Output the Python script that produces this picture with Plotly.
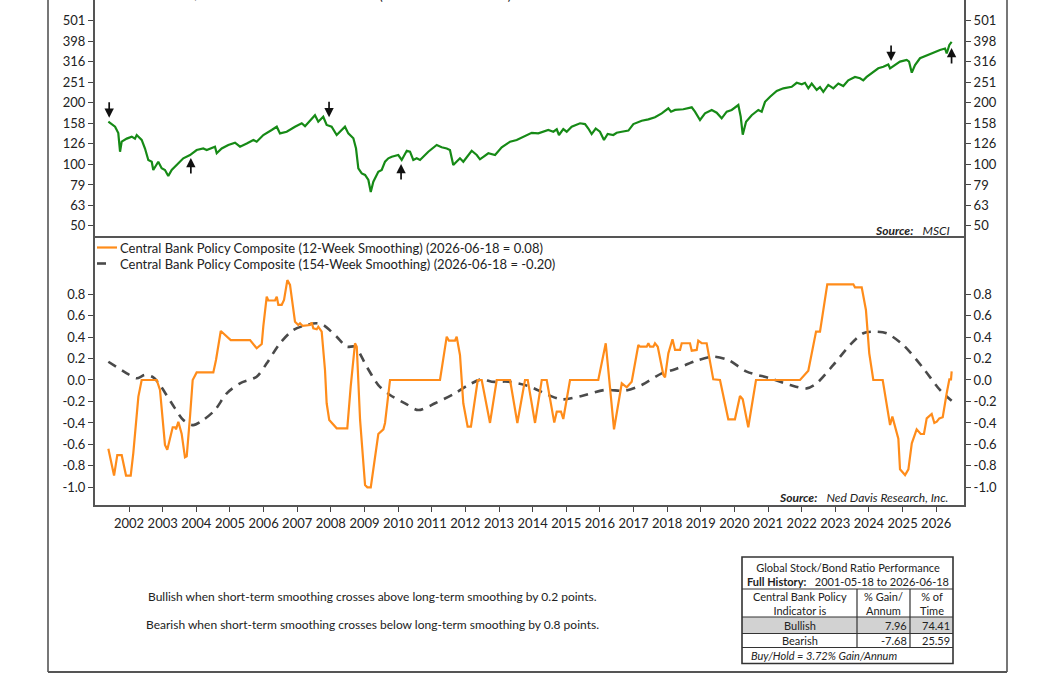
import numpy as np
import pandas as pd
import plotly.graph_objects as go

# ------------------------------------------------------------------ data
# Global stock / global bond total return ratio (decimal years)
ratio_year = [
    2001.384, 2001.584, 2001.682, 2001.732, 2001.783, 2001.932, 2002.080, 2002.178, 2002.229, 2002.378,
    2002.476, 2002.574, 2002.675, 2002.723, 2002.871, 2002.972, 2003.070, 2003.169, 2003.270, 2003.418,
    2003.615, 2003.814, 2004.013, 2004.209, 2004.310, 2004.557, 2004.608, 2004.756, 2004.953, 2005.152,
    2005.301, 2005.500, 2005.696, 2005.797, 2005.993, 2006.243, 2006.392, 2006.490, 2006.689, 2006.936,
    2007.135, 2007.233, 2007.531, 2007.629, 2007.778, 2007.879, 2008.027, 2008.176, 2008.274, 2008.423,
    2008.521, 2008.670, 2008.750, 2008.818, 2008.919, 2009.018, 2009.116, 2009.187, 2009.264, 2009.413,
    2009.514, 2009.612, 2009.710, 2009.811, 2010.008, 2010.109, 2010.258, 2010.356, 2010.454, 2010.555,
    2010.653, 2010.900, 2011.150, 2011.298, 2011.447, 2011.545, 2011.643, 2011.744, 2011.842, 2011.940,
    2012.190, 2012.339, 2012.437, 2012.684, 2012.883, 2013.082, 2013.329, 2013.528, 2013.677, 2013.974,
    2014.171, 2014.468, 2014.617, 2014.718, 2014.786, 2014.914, 2015.015, 2015.164, 2015.411, 2015.559,
    2015.658, 2015.758, 2015.877, 2016.005, 2016.124, 2016.234, 2016.401, 2016.502, 2016.651, 2016.847,
    2016.996, 2017.245, 2017.442, 2017.641, 2017.840, 2018.036, 2018.117, 2018.236, 2018.482, 2018.732,
    2018.830, 2018.979, 2019.127, 2019.327, 2019.475, 2019.624, 2019.773, 2019.922, 2020.118, 2020.189,
    2020.249, 2020.347, 2020.516, 2020.713, 2020.814, 2020.912, 2021.061, 2021.260, 2021.456, 2021.706,
    2021.854, 2022.003, 2022.101, 2022.199, 2022.300, 2022.449, 2022.547, 2022.645, 2022.794, 2022.943,
    2023.091, 2023.240, 2023.389, 2023.588, 2023.737, 2023.835, 2023.936, 2024.132, 2024.281, 2024.430,
    2024.578, 2024.629, 2024.778, 2024.926, 2025.125, 2025.194, 2025.274, 2025.372, 2025.520, 2025.720,
    2025.916, 2026.115, 2026.264, 2026.314, 2026.392, 2026.463,
]
ratio_val = [
    160.8, 152, 141.6, 114.8, 128.5, 133, 136, 133, 138.5, 131,
    119, 104.6, 102.6, 93.5, 102.6, 95.3, 93.5, 87.4, 93.5, 98.9,
    106.6, 110.6, 117, 119, 117, 121.5, 112.8, 119, 123.8, 127,
    121.5, 126, 131, 128.5, 138.5, 146.5, 152, 141, 143.7, 152,
    158, 153, 173, 160.8, 170, 155, 152, 138.5, 143.7, 152,
    141, 133.5, 119, 95.3, 90, 88.4, 83.6, 73, 82, 91.7,
    93.5, 102.6, 106.6, 108.5, 110.6, 104.6, 116, 114.8, 104.6, 106.6,
    104.6, 114.8, 123.8, 120.6, 119, 117, 98.9, 102.6, 106.6, 102.6,
    116, 110.6, 105.4, 112.8, 110.6, 120.6, 128.5, 131, 135, 142,
    141, 146.5, 143.7, 147.6, 138.5, 148, 143.7, 152, 158, 156.6,
    149, 140, 149, 143.7, 131, 140, 138.5, 142, 143.7, 145.5,
    156.6, 162.6, 165, 169, 176.6, 186.8, 180, 183.5, 185, 189,
    180, 164, 176.6, 183.5, 178, 167, 180, 183.5, 194, 170,
    139, 160.8, 173, 183.5, 180, 201, 213, 227, 234, 238,
    249, 245, 249, 234, 247, 230, 237, 225, 243, 234,
    247, 240, 256, 266, 262, 256, 266, 282, 293, 298,
    306, 293, 304, 316, 322, 316, 279, 304, 328, 340,
    349, 360, 366, 346, 381, 394,
]

# Central Bank Policy Composite, 12-week smoothing
cb12_year = [
    2001.384, 2001.486, 2001.554, 2001.652, 2001.783, 2001.911, 2002.051, 2002.128, 2002.277, 2002.378,
    2002.824, 2002.922, 2003.070, 2003.139, 2003.219, 2003.299, 2003.368, 2003.398, 2003.466, 2003.567,
    2003.665, 2003.716, 2003.814, 2003.894, 2004.013, 2004.507, 2004.587, 2004.727, 2005.024, 2005.598,
    2005.797, 2005.946, 2005.993, 2006.095, 2006.142, 2006.341, 2006.392, 2006.440, 2006.541, 2006.609,
    2006.707, 2006.787, 2006.936, 2007.034, 2007.085, 2007.165, 2007.382, 2007.433, 2007.480, 2007.581,
    2007.629, 2007.730, 2007.828, 2007.879, 2007.956, 2008.176, 2008.491, 2008.592, 2008.720, 2008.771,
    2008.869, 2009.018, 2009.086, 2009.187, 2009.413, 2009.562, 2009.612, 2009.761, 2011.248, 2011.447,
    2011.515, 2011.694, 2011.744, 2011.842, 2011.940, 2012.071, 2012.169, 2012.369, 2012.488, 2012.734,
    2012.934, 2013.329, 2013.546, 2013.775, 2013.855, 2014.073, 2014.272, 2014.420, 2014.646, 2014.718,
    2014.846, 2014.914, 2015.113, 2015.955, 2016.175, 2016.421, 2016.651, 2016.799, 2016.948, 2017.144,
    2017.195, 2017.394, 2017.442, 2017.492, 2017.590, 2017.641, 2017.721, 2017.888, 2017.938, 2018.036,
    2018.161, 2018.236, 2018.384, 2018.435, 2018.681, 2018.732, 2018.881, 2018.928, 2019.029, 2019.178,
    2019.374, 2019.573, 2019.820, 2020.019, 2020.168, 2020.249, 2020.415, 2020.644, 2021.952, 2022.199,
    2022.428, 2022.547, 2022.764, 2023.537, 2023.588, 2023.787, 2023.915, 2024.013, 2024.132, 2024.412,
    2024.629, 2024.697, 2024.876, 2024.926, 2025.075, 2025.173, 2025.274, 2025.420, 2025.541, 2025.638,
    2025.720, 2025.868, 2025.946, 2026.017, 2026.094, 2026.195, 2026.314, 2026.392, 2026.443, 2026.461,
]
cb12_val = [
    -0.64, -0.78, -0.89, -0.70, -0.70, -0.89, -0.89, -0.68, -0.155, 0.0,
    0.0, -0.093, -0.605, -0.65, -0.53, -0.44, -0.44, -0.46, -0.39, -0.50,
    -0.72, -0.71, -0.34, 0.0, 0.07, 0.07, 0.186, 0.456, 0.372, 0.372,
    0.295, 0.335, 0.50, 0.776, 0.74, 0.74, 0.776, 0.70, 0.70, 0.745,
    0.93, 0.885, 0.543, 0.512, 0.528, 0.503, 0.512, 0.534, 0.481, 0.472,
    0.496, 0.45, 0.093, -0.217, -0.372, -0.45, -0.45, -0.062, 0.342, 0.31,
    -0.372, -0.978, -1.0, -1.0, -0.503, -0.46, -0.40, 0.0, 0.0, 0.403,
    0.366, 0.366, 0.403, 0.233, -0.217, -0.434, -0.434, 0.0, 0.0, -0.40,
    0.0, 0.0, -0.40, 0.0, 0.0, -0.40, 0.0, 0.0, -0.397, -0.295,
    -0.295, -0.363, 0.0, 0.0, 0.342, -0.459, -0.031, -0.068, -0.016, 0.326,
    0.31, 0.31, 0.342, 0.31, 0.31, 0.342, 0.31, 0.047, 0.025, 0.248,
    0.379, 0.28, 0.28, 0.342, 0.342, 0.273, 0.28, 0.366, 0.342, 0.342,
    0.006, 0.0, -0.366, -0.366, -0.149, -0.18, -0.44, 0.0, 0.0, 0.087,
    0.45, 0.45, 0.891, 0.891, 0.863, 0.863, 0.652, 0.248, 0.0, 0.0,
    -0.419, -0.341, -0.546, -0.832, -0.885, -0.832, -0.59, -0.46, -0.503, -0.503,
    -0.357, -0.317, -0.40, -0.388, -0.357, -0.347, -0.124, 0.006, 0.006, 0.08,
]

# Central Bank Policy Composite, 154-week smoothing
cb154_year = [
    2001.384, 2001.932, 2002.229, 2002.476, 2002.723, 2002.922, 2003.270, 2003.615, 2003.912, 2004.209,
    2004.557, 2004.905, 2005.301, 2005.797, 2006.095, 2006.490, 2006.886, 2007.284, 2007.581, 2007.778,
    2008.176, 2008.473, 2008.720, 2009.068, 2009.413, 2009.761, 2010.207, 2010.602, 2011.099, 2011.694,
    2012.089, 2012.488, 2012.785, 2013.279, 2013.873, 2014.468, 2014.866, 2015.461, 2016.154, 2016.749,
    2017.245, 2017.840, 2018.236, 2018.881, 2019.374, 2019.820, 2020.367, 2021.061, 2021.656, 2022.152,
    2022.449, 2022.943, 2023.440, 2023.835, 2024.233, 2024.530, 2025.024, 2025.619, 2026.115, 2026.461,
]
cb154_val = [
    0.17, 0.062, 0.016, 0.047, 0.025, -0.047, -0.217, -0.372, -0.42, -0.372,
    -0.28, -0.124, -0.031, 0.031, 0.155, 0.342, 0.466, 0.512, 0.528, 0.512,
    0.403, 0.31, 0.31, 0.124, -0.047, -0.14, -0.217, -0.28, -0.217, -0.124,
    -0.047, 0.006, -0.016, -0.016, -0.056, -0.14, -0.18, -0.149, -0.093, -0.1,
    -0.047, 0.062, 0.1, 0.18, 0.217, 0.186, 0.078, 0.016, -0.047, -0.078,
    -0.031, 0.14, 0.326, 0.435, 0.45, 0.435, 0.326, 0.109, -0.093, -0.193,
]

# Buy / sell signal arrows on the ratio panel
signal_year = [2001.41, 2003.84, 2007.95, 2010.09, 2024.66, 2026.46]
signal_level = [168, 107, 169, 100, 318, 368]
signal_dir = ["down", "up", "down", "up", "down", "up"]

year_ticks = list(range(2002, 2027))
ratio_ticks = [50, 63, 79, 100, 126, 158, 200, 251, 316, 398, 501]
cb_ticks = [-1.0, -0.8, -0.6, -0.4, -0.2, 0.0, 0.2, 0.4, 0.6, 0.8]

perf_state = ["Bullish", "Bearish"]
perf_gain = ["7.96", "-7.68"]
perf_time = ["74.41", "25.59"]
buy_hold = "3.72"

ratio_label = "Global Stock/Global Bond Total Return Ratio (2026-06-18 = 377.46)"
cb12_label = "Central Bank Policy Composite (12-Week Smoothing) (2026-06-18 = 0.08)"
cb154_label = "Central Bank Policy Composite (154-Week Smoothing) (2026-06-18 = -0.20)"

# ------------------------------------------------------------------ helpers
W, H = 1056, 675
L, R, T, B, MID = 95, 964, 0, 505, 238
FONT = "Lato, 'DejaVu Sans', sans-serif"
AX = "#555555"
TXT = "#222222"


def px(x):
    return (x - L) / (R - L)


def py(y):
    return (B - y) / (B - T)


def to_date(d):
    y = int(np.floor(d))
    s = pd.Timestamp(year=y, month=1, day=1)
    e = pd.Timestamp(year=y + 1, month=1, day=1)
    return (s + (e - s) * (d - y)).strftime("%Y-%m-%d")


xr = [to_date(2000.989), to_date(2026.829)]
split = (B - MID) / (B - T)

r_x = [to_date(d) for d in ratio_year]
c12_x = [to_date(d) for d in cb12_year]
c154_x = [to_date(d) for d in cb154_year]

fig = go.Figure()
fig.add_trace(go.Scatter(x=r_x, y=ratio_val, xaxis="x", yaxis="y", mode="lines",
                         line=dict(color="#168a16", width=2.2), hoverinfo="skip"))
fig.add_trace(go.Scatter(x=r_x, y=ratio_val, xaxis="x", yaxis="y3", mode="lines",
                         line=dict(width=0), opacity=0, hoverinfo="skip"))
fig.add_trace(go.Scatter(x=c154_x, y=cb154_val, xaxis="x2", yaxis="y2", mode="lines",
                         line=dict(color="#4a4a4a", width=2.6, dash="9px,7px", shape="spline",
                                   smoothing=0.8), hoverinfo="skip"))
fig.add_trace(go.Scatter(x=c12_x, y=cb12_val, xaxis="x2", yaxis="y2", mode="lines",
                         line=dict(color="#ff8c1a", width=2.2), hoverinfo="skip"))
fig.add_trace(go.Scatter(x=c12_x, y=cb12_val, xaxis="x2", yaxis="y4", mode="lines",
                         line=dict(width=0), opacity=0, hoverinfo="skip"))

tickfont = dict(family=FONT, size=13, color=TXT)
common_y = dict(showgrid=False, zeroline=False, ticks="outside", ticklen=5, tickwidth=1,
                tickcolor="#444", showline=True, linecolor=AX, linewidth=2, tickfont=tickfont)

ratio_axis = dict(type="log", range=[1.639, 2.8], tickmode="array", tickvals=ratio_ticks,
                  ticktext=[str(v) for v in ratio_ticks], **common_y)
cb_axis = dict(range=[-1.164, 1.322], tickmode="array", tickvals=cb_ticks,
               ticktext=[f"{v:.1f}" for v in cb_ticks], **common_y)

fig.update_layout(
    width=W, height=H,
    margin=dict(l=L, r=W - R, t=T, b=H - B, pad=0),
    paper_bgcolor="white", plot_bgcolor="white",
    showlegend=False,
    font=dict(family=FONT, size=13, color=TXT),
    xaxis=dict(domain=[0, 1], anchor="y", type="date", range=xr, showticklabels=False,
               ticks="", showgrid=False, zeroline=False, showline=False),
    xaxis2=dict(domain=[0, 1], anchor="y2", type="date", range=xr, matches="x",
                tickmode="array", tickvals=[f"{y}-01-01" for y in year_ticks],
                ticktext=[str(y) for y in year_ticks], ticks="outside", ticklen=5,
                tickwidth=1, tickcolor="#444", showline=True, mirror=True, linecolor=AX,
                linewidth=2, showgrid=False, zeroline=False, tickfont=tickfont),
    yaxis=dict(domain=[split, 1], anchor="x", side="left", **ratio_axis),
    yaxis3=dict(overlaying="y", anchor="x", side="right", **ratio_axis),
    yaxis2=dict(domain=[0, split], anchor="x2", side="left", **cb_axis),
    yaxis4=dict(overlaying="y2", anchor="x2", side="right", **cb_axis),
)

ann = []
shapes = []


def text(t, x, y, xanchor="center", size=12, color=TXT, yanchor="middle", yshift=0):
    ann.append(dict(xref="paper", yref="paper", x=px(x), y=py(y), text=t, showarrow=False,
                    xanchor=xanchor, yanchor=yanchor, yshift=yshift, borderpad=0,
                    font=dict(family=FONT, size=size, color=color)))


def hline(x0, x1, y, color="#333", width=1.2, dash=None):
    shapes.append(dict(type="line", xref="paper", yref="paper", x0=px(x0), x1=px(x1),
                       y0=py(y), y1=py(y), line=dict(color=color, width=width, dash=dash)))


def vline(x, y0, y1, color="#333", width=1.2):
    shapes.append(dict(type="line", xref="paper", yref="paper", x0=px(x), x1=px(x),
                       y0=py(y0), y1=py(y1), line=dict(color=color, width=width)))


# signal arrows
for yv, lv, dv in zip(signal_year, signal_level, signal_dir):
    ann.append(dict(xref="x", yref="y", x=to_date(yv), y=float(np.log10(lv)), text="",
                    showarrow=True, ax=0, ay=(-17 if dv == "down" else 17),
                    arrowhead=2, arrowsize=1.1, arrowwidth=1.7, arrowcolor="#111", standoff=0))

# clipped ratio title at the very top (as in the reference, only its lower edge shows)
ann.append(dict(xref="paper", yref="paper", x=px(121), y=1, yanchor="bottom", yshift=-5,
                xanchor="left", text=ratio_label, showarrow=False,
                font=dict(family=FONT, size=13, color=TXT)))

# bottom-panel legend
hline(97, 117, 247.5, color="#ff8c1a", width=2.2)
text(cb12_label, 119, 247.5, xanchor="left", size=13)
hline(97, 106, 263.5, color="#4a4a4a", width=2.6)
text(cb154_label, 119, 263.5, xanchor="left", size=13)

# sources
text("<b><i>Source:</i></b>\u00a0\u00a0\u00a0<i>MSCI</i>", 951, 231, xanchor="right", size=12)
text("<b><i>Source:</i></b>\u00a0\u00a0\u00a0<i>Ned Davis Research, Inc.</i>", 949, 497,
     xanchor="right", size=12)

# notes
text("Bullish when short-term smoothing crosses above long-term smoothing by 0.2 points.",
     372, 596, size=12)
text("Bearish when short-term smoothing crosses below long-term smoothing by 0.8 points.",
     372, 624, size=12)

# outer frame
vline(48, 0, 672, color="#555", width=1.6)
vline(1007, 0, 672, color="#555", width=1.6)
hline(48, 1007, 672, color="#555", width=2)

# performance table
X0, X1, C1, C2 = 742, 953, 857, 910
Y0, Y1, Y2, Y3, Y4, Y5 = 557, 589, 617, 633.5, 647.5, 663.5
TS = 11
shapes.append(dict(type="rect", xref="paper", yref="paper", x0=px(X0), x1=px(X1),
                   y0=py(Y3), y1=py(Y2), fillcolor="#d2d2d2", line=dict(width=0)))
shapes.append(dict(type="rect", xref="paper", yref="paper", x0=px(X0), x1=px(X1),
                   y0=py(Y5), y1=py(Y0), line=dict(color="#333", width=1.6)))
for yy in (Y1, Y2, Y3, Y4):
    hline(X0, X1, yy)
vline(C1, Y1, Y4)
vline(C2, Y1, Y4)

cx = (X0 + X1) / 2
text("Global Stock/Bond Ratio Performance<br><b>Full History:</b>\u00a0\u00a0 2001-05-18 to 2026-06-18",
     cx, 574, size=TS)
text("Central Bank Policy<br>Indicator is", (X0 + C1) / 2, 603.5, size=TS)
text("% Gain/<br>Annum", (C1 + C2) / 2, 603.5, size=TS)
text("% of<br>Time", (C2 + X1) / 2, 603.5, size=TS)
for i, (st, g, tm) in enumerate(zip(perf_state, perf_gain, perf_time)):
    yy = 625.5 + i * 15
    text(st, (X0 + C1) / 2, yy, size=TS)
    text(g, C2 - 2.5, yy, xanchor="right", size=TS)
    text(tm, X1 - 2.5, yy, xanchor="right", size=TS)
text(f"<i>Buy/Hold = {buy_hold}% Gain/Annum</i>", 750, 655.5, xanchor="left", size=TS)

fig.update_layout(annotations=ann, shapes=shapes)
fig.write_html("out.html")
